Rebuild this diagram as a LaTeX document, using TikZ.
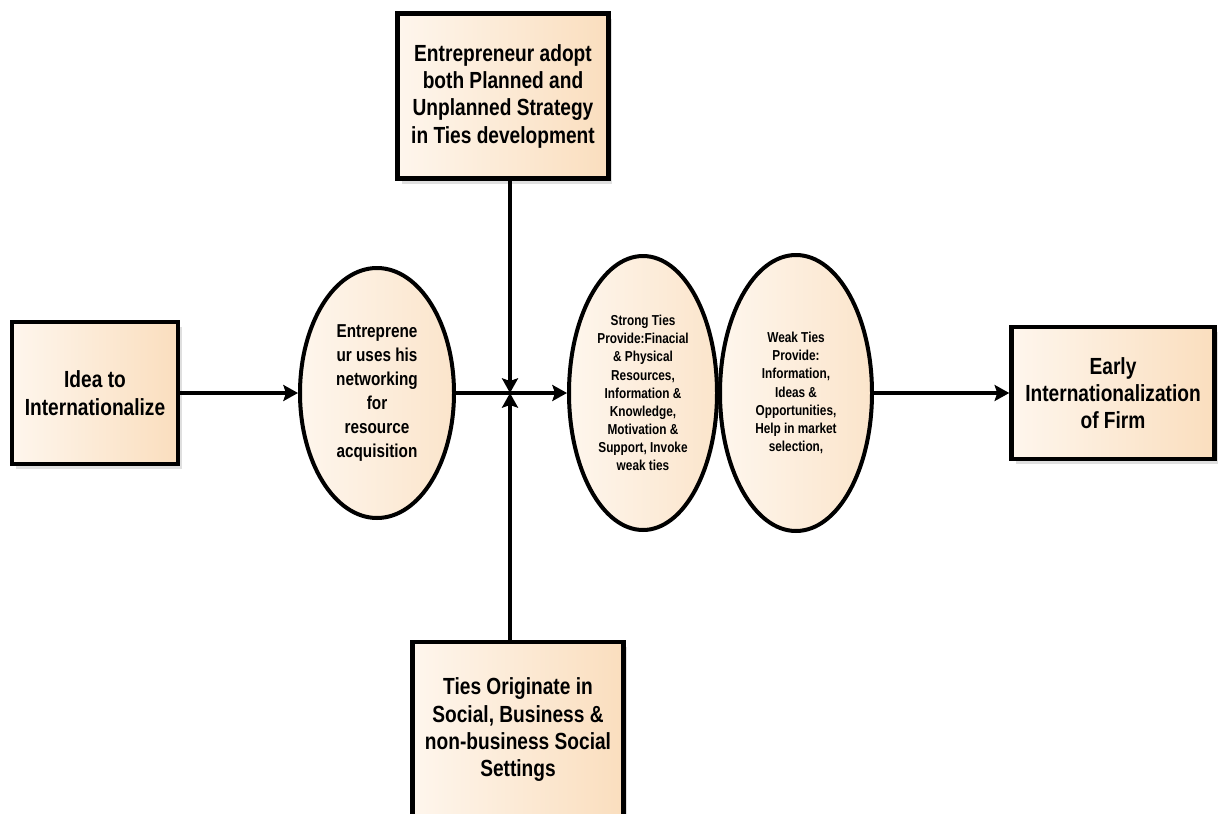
\documentclass[tikz,border=0pt]{standalone}
\usepackage{fontspec}
\setmainfont{Liberation Sans}[FakeStretch=0.82]
\usetikzlibrary{shapes.geometric,arrows.meta,shadows}
\definecolor{peach}{RGB}{250,222,190}
\definecolor{cream}{RGB}{254,246,237}
\begin{document}
\begin{tikzpicture}[x=0.75pt,y=-0.75pt,->,>={Stealth[length=11pt,width=12pt,inset=2pt]},line width=3.4pt]
\useasboundingbox (0,0) rectangle (1225,814);
\tikzstyle{every node} = [draw, line width=3.6pt, left color=cream, right color=peach, align=center,
  font=\bfseries\fontsize{17.5}{20.5}\selectfont,
  drop shadow={shadow xshift=3pt, shadow yshift=-4pt, opacity=.25}]
\node (1) at (95,393) [minimum width=124.5pt, minimum height=106.5pt] {Idea to\\Internationalize};
\node (6) at (503,96) [minimum width=158pt, minimum height=124pt] {Entrepreneur adopt\\both Planned and\\Unplanned Strategy\\in Ties development};
\node (7) at (518,730) [minimum width=158pt, minimum height=132pt] {Ties Originate in\\Social, Business \&\\non-business Social\\Settings};
\node (5) at (1113,393) [minimum width=152pt, minimum height=99pt] {Early\\Internationalization\\of Firm};
\tikzstyle{every node} = [ellipse, draw, line width=3pt, left color=cream, right color=peach!80, inner sep=0pt, align=center,
  font=\bfseries\fontsize{10.8}{13.6}\selectfont]
\node (2) at (377,393) [minimum width=115.5pt, minimum height=187.5pt, font=\bfseries\fontsize{14}{18}\selectfont] {Entreprene\\ur uses his\\networking\\for\\resource\\acquisition};
\node (3) at (643,393) [minimum width=111pt, minimum height=205.5pt] {Strong Ties\\Provide:Finacial\\\& Physical\\Resources,\\Information \&\\Knowledge,\\Motivation \&\\Support, Invoke\\weak ties};
\node (4) at (796,393) [minimum width=114pt, minimum height=207pt] {Weak Ties\\Provide:\\Information,\\Ideas \&\\Opportunities,\\Help in market\\selection,};
\tikzstyle{every node} = []
\coordinate (8) at (510,393);
\draw (1) -- (2);
\draw (2) -- (3);
\draw (4) -- (5);
\draw (6.south -| 8) -- (8);
\draw (7.north -| 8) -- (8);
\end{tikzpicture}
\end{document}
